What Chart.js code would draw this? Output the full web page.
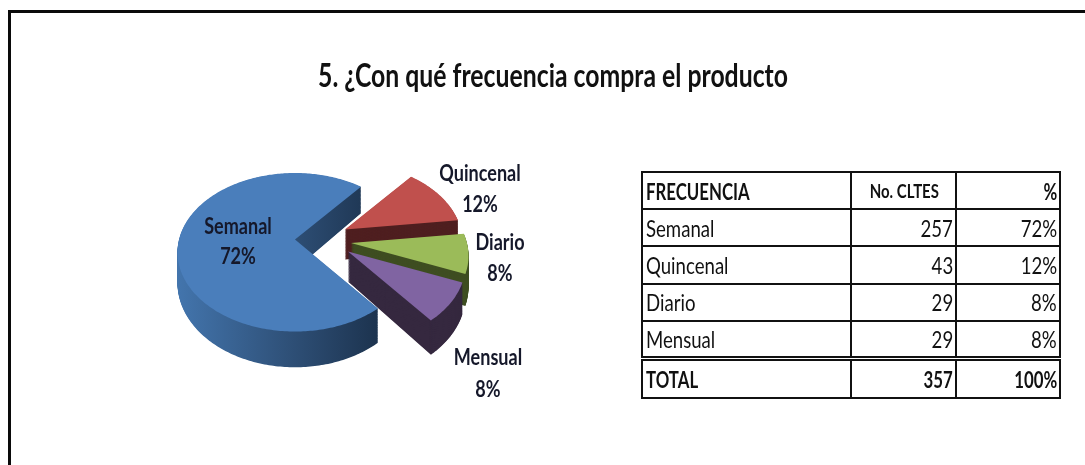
<!DOCTYPE html>
<html lang="es">
<head>
<meta charset="utf-8">
<title>Frecuencia de compra</title>
<script src="https://cdn.jsdelivr.net/npm/chart.js@4"></script>
<style>
  html,body{margin:0;padding:0;background:#fff;width:1085px;height:465px;overflow:hidden}
  #frame{position:absolute;left:8px;top:10px;width:1200px;height:600px;border:3px solid #0a0a0a;box-sizing:border-box}
  #wrap{position:absolute;left:0;top:0;width:1085px;height:465px}
  table{position:absolute;left:641px;top:171px;width:418px;border-collapse:collapse;table-layout:fixed;
        font-family:Lato,sans-serif;font-size:20px;color:#111}
  td{border:2px solid #111;padding:0 2px 0 3px;height:37.2px;line-height:34px;white-space:nowrap;overflow:hidden;box-sizing:border-box}
  td span{display:inline-block;transform:scale(0.93,1.16);transform-origin:0 50%}
  td.n{text-align:right}
  td.n span{transform-origin:100% 50%}
  tr.h td{font-weight:bold}
  tr.t td{font-weight:bold;border-top:5px double #111;height:40px}
  tr.h td span,tr.t td span{transform:scale(0.84,1.16)}
  tr.h td.c{text-align:center;font-size:17px}
  tr.h td.c span{transform:scale(0.88,1.16);transform-origin:50% 50%}
</style>
</head>
<body>
<div id="frame"></div>
<div id="wrap"><canvas id="c" width="1085" height="465"></canvas></div>
<table id="t"><colgroup><col style="width:209px"><col style="width:105px"><col style="width:104px"></colgroup><tbody></tbody></table>
<script>
const chartTitle = "5. ¿Con qué frecuencia compra el producto";
const categories = ["Semanal", "Quincenal", "Diario", "Mensual"];
const clientes = [257, 43, 29, 29];
const porcentajes = ["72%", "12%", "8%", "8%"];
const tableHeader = ["FRECUENCIA", "No. CLTES", "%"];
const totalRow = ["TOTAL", "357", "100%"];
const sliceColors = ["#4a7ebb", "#c0504d", "#9bbb59", "#8064a2"];
const wallColors = [null, "#4f1f20", "#3f4e22", "#35283f"];

// Table
const tb = document.querySelector("#t tbody");
function addRow(cells, cls) {
  const tr = document.createElement("tr");
  if (cls) tr.className = cls;
  cells.forEach((v, i) => {
    const td = document.createElement("td");
    const sp = document.createElement("span");
    sp.textContent = v;
    td.appendChild(sp);
    if (i > 0) td.className = "n";
    if (cls === "h" && i === 1) td.className = "c";
    tr.appendChild(td);
  });
  tb.appendChild(tr);
}
addRow(tableHeader, "h");
categories.forEach((c, i) => addRow([c, clientes[i], porcentajes[i]]));
addRow(totalRow, "t");

// 3D projection of the flat pie
const VIEW = {x: 295, y: 239.5, a: 116, b: 77.2, k: 0.161, depth: 30};
const EXPLODE = [[0, 0], [50, -10], [56, 3.5], [53, 12]];
const DRAW_ORDER = [1, 2, 3, 0];
const LABEL_POS = [[238, 227, 257], [480, 174, 205], [500, 243, 274], [488, 358, 390]];

function proj(u, v, shift, lift) {
  const w = 1 - VIEW.k * v;
  return [VIEW.x + shift[0] + VIEW.a * u / w, VIEW.y + shift[1] + VIEW.b * v / w + lift * VIEW.depth / w];
}
function slicePath(ctx, start, end, shift, lift) {
  ctx.beginPath();
  const c = proj(0, 0, shift, lift);
  ctx.moveTo(c[0], c[1]);
  const steps = Math.max(8, Math.ceil((end - start) * 60));
  for (let i = 0; i <= steps; i++) {
    const t = start + (end - start) * i / steps;
    const p = proj(Math.cos(t), Math.sin(t), shift, lift);
    ctx.lineTo(p[0], p[1]);
  }
  ctx.closePath();
}
function stretchedText(ctx, text, x, y, sx, sy) {
  ctx.save();
  ctx.translate(x, y);
  ctx.scale(sx, sy);
  ctx.fillText(text, 0, 0);
  ctx.restore();
}
const pie3d = {
  id: "pie3d",
  beforeDatasetsDraw(chart) {
    const ctx = chart.ctx;
    const arcs = chart.getDatasetMeta(0).data;
    const grad = ctx.createLinearGradient(177, 0, 375, 0);
    grad.addColorStop(0, "#4375ad");
    grad.addColorStop(0.55, "#2f5179");
    grad.addColorStop(1, "#1d3450");
    ctx.save();
    DRAW_ORDER.forEach(i => {
      const arc = arcs[i], sh = EXPLODE[i];
      ctx.fillStyle = wallColors[i] || grad;
      for (let l = 1; l >= 0.01; l -= 0.02) {
        slicePath(ctx, arc.startAngle, arc.endAngle, sh, l);
        ctx.fill();
      }
      ctx.fillStyle = sliceColors[i];
      slicePath(ctx, arc.startAngle, arc.endAngle, sh, 0);
      ctx.fill();
    });
    ctx.restore();
    return false;
  },
  afterDraw(chart) {
    const ctx = chart.ctx;
    ctx.save();
    ctx.textAlign = "center";
    ctx.textBaseline = "middle";
    ctx.fillStyle = "#15182a";
    ctx.font = 'bold 19px Lato,sans-serif';
    categories.forEach((c, i) => {
      stretchedText(ctx, c, LABEL_POS[i][0], LABEL_POS[i][1], 0.95, 1.2);
      stretchedText(ctx, porcentajes[i], LABEL_POS[i][0], LABEL_POS[i][2], 0.95, 1.2);
    });
    ctx.fillStyle = "#111";
    ctx.font = 'bold 28px Lato,sans-serif';
    stretchedText(ctx, chartTitle, 553, 77, 0.885, 1.16);
    ctx.restore();
  }
};

new Chart(document.getElementById("c"), {
  type: "pie",
  data: {labels: categories, datasets: [{data: clientes, backgroundColor: sliceColors, borderWidth: 0}]},
  options: {
    responsive: false,
    animation: false,
    rotation: 141.3,
    plugins: {
      legend: {display: false},
      tooltip: {enabled: false}
    }
  },
  plugins: [pie3d]
});
</script>
</body>
</html>
